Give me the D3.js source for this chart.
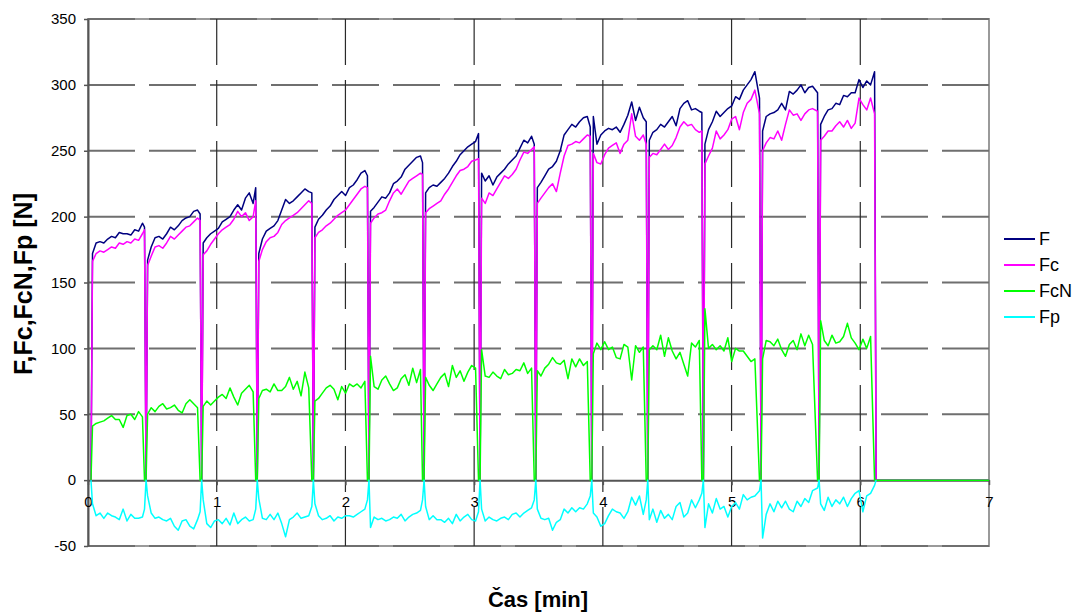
<!DOCTYPE html>
<html><head><meta charset="utf-8">
<script src="https://cdn.jsdelivr.net/npm/d3@7"></script>
<style>
body{margin:0;background:#fff}
text{font-family:Arial,"Liberation Sans",sans-serif}
</style>
</head><body>
<svg id="chart" width="1076" height="612"></svg>
<script>
// ---------------- DATA ----------------
const time = [
0.023,0.035,0.063,0.093,0.123,0.153,0.183,0.213,0.243,0.273,0.303,0.333,0.363,0.393,0.423,0.439,
0.451,0.463,0.491,0.521,0.551,0.581,0.611,0.641,0.671,0.701,0.731,0.761,0.791,0.821,0.851,0.871,
0.883,0.895,0.923,0.953,0.983,1.013,1.043,1.073,1.103,1.133,1.163,1.193,1.223,1.253,1.283,1.303,
1.315,1.327,1.355,1.385,1.415,1.445,1.475,1.505,1.535,1.565,1.595,1.625,1.655,1.685,1.715,1.739,
1.751,1.763,1.791,1.821,1.851,1.881,1.911,1.941,1.971,2.001,2.031,2.061,2.091,2.121,2.151,2.171,
2.183,2.195,2.223,2.253,2.283,2.313,2.343,2.373,2.403,2.433,2.463,2.493,2.523,2.553,2.583,2.599,
2.611,2.623,2.651,2.681,2.711,2.741,2.771,2.801,2.831,2.861,2.891,2.921,2.951,2.981,3.011,3.034,
3.046,3.058,3.086,3.116,3.146,3.176,3.206,3.236,3.266,3.296,3.326,3.356,3.386,3.416,3.446,3.467,
3.479,3.491,3.519,3.549,3.579,3.609,3.639,3.669,3.699,3.729,3.759,3.789,3.819,3.849,3.879,3.902,
3.914,3.926,3.954,3.984,4.014,4.044,4.074,4.104,4.134,4.164,4.194,4.224,4.254,4.284,4.314,4.337,
4.349,4.361,4.389,4.419,4.449,4.479,4.509,4.539,4.569,4.599,4.629,4.659,4.689,4.719,4.749,4.769,
4.781,4.793,4.821,4.851,4.881,4.911,4.941,4.971,5.001,5.031,5.061,5.091,5.121,5.151,5.181,5.217,
5.229,5.241,5.269,5.299,5.329,5.359,5.389,5.419,5.449,5.479,5.509,5.539,5.569,5.599,5.629,5.668,
5.680,5.692,5.720,5.750,5.780,5.810,5.840,5.870,5.900,5.930,5.960,5.990,6.020,6.050,6.080,6.111,
6.123,7.0];

const F = [
0,172,180,181,180,183,185,184,188,187,187,186,190,189,195,192,
0,167,177,184,185,183,187,192,190,193,197,199,200,204,205,202,
0,180,184,187,189,191,196,198,200,205,209,205,214,218,210,222,
0,172,183,189,191,193,197,205,213,210,212,215,218,221,219,218,
0,192,198,201,205,208,213,216,219,216,222,224,228,233,235,231,
0,204,207,211,215,214,218,225,227,230,236,239,242,245,246,241,
0,218,222,224,223,226,229,233,238,242,247,250,253,255,257,263,
0,233,227,231,224,230,233,236,240,243,246,252,258,256,261,255,
0,222,226,231,236,238,242,250,262,266,270,268,272,275,276,268,
0,276,255,262,265,267,266,268,264,270,277,287,273,283,275,272,
0,258,264,266,270,268,272,276,269,282,286,288,281,282,280,279,
0,255,266,272,280,276,279,282,284,291,289,296,300,304,310,290,
0,265,276,278,279,281,286,281,295,293,296,300,294,298,299,294,
0,270,276,281,282,286,285,292,291,294,294,304,298,303,300,310,
0,0];

const Fc = [
0,166,172,174,173,175,177,176,180,179,181,180,183,182,187,190,
0,163,170,177,178,176,180,185,183,186,189,192,193,196,199,197,
0,171,174,179,183,187,190,192,194,198,204,200,203,197,200,212,
0,166,175,181,184,185,188,194,197,199,201,203,206,209,212,210,
0,184,188,190,193,195,198,201,203,205,209,213,217,221,223,222,
0,195,199,202,203,205,212,218,221,217,222,227,229,231,233,232,
0,203,206,208,210,212,217,221,226,231,235,236,238,242,243,244,
0,214,210,218,216,221,226,231,229,232,236,243,249,248,251,253,
0,210,214,218,222,225,219,233,246,254,255,257,256,259,262,261,
0,248,241,240,247,252,254,256,248,255,258,278,261,258,262,255,
0,245,248,247,251,255,251,254,260,268,272,269,270,266,264,265,
0,240,246,252,265,259,262,266,274,276,266,279,286,289,296,278,
0,250,256,260,259,265,258,270,281,277,278,273,278,281,282,280,
0,258,261,265,265,269,272,268,273,267,271,290,285,281,290,278,
0,0];

const FcN = [
0,41,43,44,45,47,49,46,46,40,49,50,46,52,48,0,
0,50,55,52,56,58,54,55,57,53,51,58,61,58,55,0,
0,56,60,57,60,63,65,62,70,63,57,66,69,72,67,0,
0,62,68,69,67,73,68,68,71,78,69,75,64,82,70,0,
0,60,62,66,70,72,69,61,71,66,73,71,73,70,75,0,
0,94,71,69,76,79,73,68,70,77,80,72,85,74,84,0,
0,78,72,68,73,78,81,71,87,78,83,75,82,87,85,0,
0,99,79,78,82,79,77,84,80,81,84,83,89,81,85,0,
0,83,79,85,88,93,89,88,91,77,92,86,92,87,90,0,
0,96,104,99,105,99,101,93,92,103,101,76,102,97,101,0,
0,99,102,99,110,94,108,98,92,97,88,79,104,101,106,0,
0,130,100,103,99,102,98,108,90,100,98,98,94,90,92,0,
0,92,106,105,102,107,99,94,103,106,99,111,102,110,103,0,
0,121,106,102,110,104,105,109,119,108,104,99,107,100,109,0,
0,0];

const Fp = [
0,-18,-27,-25,-29,-25,-27,-28,-30,-22,-31,-26,-29,-29,-28,-22,
0,-12,-25,-29,-28,-30,-31,-29,-35,-38,-31,-30,-35,-37,-30,-24,
0,-15,-33,-36,-31,-30,-33,-29,-34,-25,-33,-30,-28,-31,-30,-22,
0,-14,-29,-30,-26,-30,-25,-33,-43,-30,-28,-25,-29,-28,-27,-20,
0,-18,-27,-30,-29,-27,-31,-28,-29,-27,-27,-28,-26,-24,-22,-15,
0,-36,-28,-30,-29,-31,-30,-28,-29,-26,-31,-28,-26,-25,-23,-15,
0,-20,-30,-27,-30,-30,-32,-29,-33,-26,-31,-28,-26,-30,-31,-24,
0,-22,-31,-28,-30,-31,-29,-28,-30,-26,-25,-28,-25,-23,-21,-15,
0,-22,-29,-30,-29,-38,-32,-30,-22,-25,-21,-24,-21,-22,-18,-12,
0,-25,-28,-35,-33,-27,-22,-24,-25,-29,-24,-13,-19,-12,-26,-15,
0,-30,-22,-32,-23,-29,-26,-30,-20,-17,-28,-25,-15,-21,-15,-10,
0,-36,-18,-25,-14,-22,-20,-28,-20,-17,-22,-11,-15,-13,-12,-8,
0,-44,-26,-18,-24,-16,-21,-16,-22,-24,-16,-20,-14,-17,-8,-6,
0,-18,-23,-13,-20,-15,-18,-13,-20,-14,-10,-8,-24,-12,-10,-4,
0,null];

const xTicks = [0,1,2,3,4,5,6,7];
const yTicks = [-50,0,50,100,150,200,250,300,350];
const seriesNames = ["F","Fc","FcN","Fp"];
const seriesColors = ["#000080","#FF00FF","#00FF00","#00FFFF"];
const xTitle = "Čas [min]";
const yTitle = "F,Fc,FcN,Fp [N]";

// ---------------- CHART ----------------
const svg = d3.select("#chart");
const x = d3.scaleLinear().domain([0,7]).range([88,989]);
const y = d3.scaleLinear().domain([-50,350]).range([546,19]);
const plainFmt = d => String(d);

// plot border
svg.append("rect")
  .attr("x", x(0)).attr("y", y(350))
  .attr("width", x(7)-x(0)).attr("height", y(-50)-y(350))
  .attr("fill","none").attr("stroke","#9a9a9a").attr("stroke-width",2);

// horizontal dashed grid
svg.append("g").selectAll("line").data(yTicks.filter(d=>d!==0)).join("line")
  .attr("x1", x(0)).attr("x2", x(7))
  .attr("y1", d=>y(d)).attr("y2", d=>y(d))
  .attr("stroke","#6f6f6f").attr("stroke-width",2)
  .attr("stroke-dasharray","47,14");

// vertical dashed grid
svg.append("g").selectAll("line").data(xTicks.filter(d=>d>0 && d<7)).join("line")
  .attr("x1", d=>x(d)).attr("x2", d=>x(d))
  .attr("y1", y(350)).attr("y2", y(-50))
  .attr("stroke","#2a2a2a").attr("stroke-width",1.2)
  .attr("stroke-dasharray","46,15");

// y axis
const yAxis = svg.append("g").attr("transform",`translate(${x(0)},0)`)
  .call(d3.axisLeft(y).tickValues(yTicks).tickFormat(plainFmt).tickSize(4).tickSizeOuter(0).tickPadding(8));
yAxis.select(".domain").attr("stroke","#555").attr("stroke-width",2);
yAxis.selectAll(".tick line").attr("stroke","#555").attr("stroke-width",1.5);
yAxis.selectAll("text").attr("font-size",15).attr("fill","#000")
  .attr("font-family","Arial, 'Liberation Sans', sans-serif");

// x axis at y = 0
const xAxis = svg.append("g").attr("transform",`translate(0,${y(0)})`)
  .call(d3.axisBottom(x).tickValues(xTicks).tickFormat(plainFmt).tickSize(5).tickSizeOuter(0).tickPadding(11));
xAxis.select(".domain").attr("stroke","#555").attr("stroke-width",2);
xAxis.selectAll(".tick line").attr("stroke","#555").attr("stroke-width",1.5);
xAxis.selectAll("text").attr("font-size",15).attr("fill","#000")
  .attr("font-family","Arial, 'Liberation Sans', sans-serif");

// series lines
const seriesData = [F, Fc, FcN, Fp];
const idx = d3.range(time.length);
seriesData.forEach((vals, k) => {
  const line = d3.line()
    .defined(i => vals[i] !== null && vals[i] !== undefined)
    .x(i => x(time[i]))
    .y(i => y(vals[i]));
  svg.append("path")
    .attr("d", line(idx))
    .attr("fill","none")
    .attr("stroke", seriesColors[k])
    .attr("stroke-width",1.5)
    .attr("stroke-linejoin","round");
});

// legend
const lg = svg.append("g");
seriesNames.forEach((name, k) => {
  const yy = 239 + k*26;
  lg.append("line").attr("x1",1004).attr("x2",1035).attr("y1",yy).attr("y2",yy)
    .attr("stroke",seriesColors[k]).attr("stroke-width",2);
  lg.append("text").attr("x",1039).attr("y",yy).attr("dy","0.36em")
    .attr("font-size",18).attr("fill","#000").text(name);
});

// titles
svg.append("text").attr("x",538).attr("y",607).attr("text-anchor","middle")
  .attr("font-size",22).attr("font-weight","bold").text(xTitle);
svg.append("text").attr("transform","translate(32,284) rotate(-90)")
  .attr("text-anchor","middle").attr("font-size",25).attr("font-weight","bold").text(yTitle);
</script>
</body></html>
